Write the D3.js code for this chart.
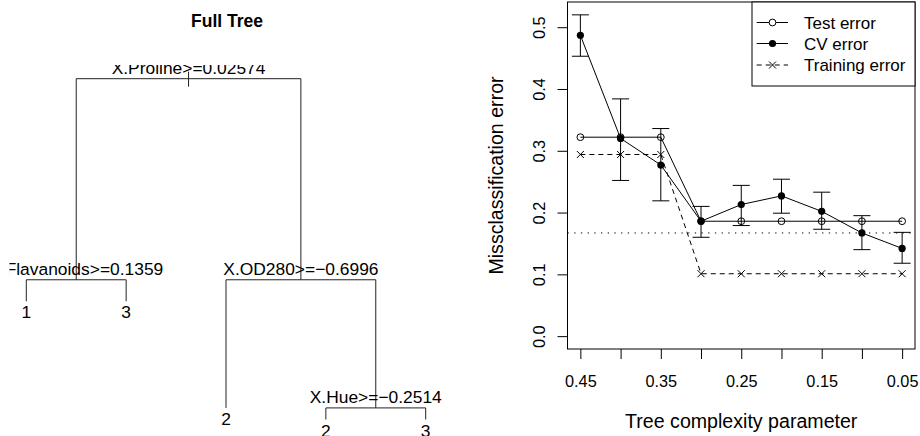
<!DOCTYPE html>
<html>
<head>
<meta charset="utf-8">
<script src="https://cdn.jsdelivr.net/npm/d3@7"></script>
<style>
  body { margin: 0; background: #fff; }
  svg { display: block; font-family: "Liberation Sans", Arial, Helvetica, sans-serif; }
</style>
</head>
<body>
<svg id="chart" width="920" height="436"></svg>
<script>
// ---- tree (left panel) ----
// leaves in plotting order, with predicted class
const treeNodes = [
  { id: "root", parent: null, label: "X.Proline>=0.02574", height: 1.0 },
  { id: "flav", parent: "root", label: "X.Flavanoids>=0.1359", height: 0.41 },
  { id: "l1", parent: "flav", label: "1", height: 0.347 },
  { id: "l2", parent: "flav", label: "3", height: 0.347 },
  { id: "od", parent: "root", label: "X.OD280>=\u22120.6996", height: 0.41 },
  { id: "l3", parent: "od", label: "2", height: 0.034 },
  { id: "hue", parent: "od", label: "X.Hue>=\u22120.2514", height: 0.034 },
  { id: "l4", parent: "hue", label: "2", height: 0.0 },
  { id: "l5", parent: "hue", label: "3", height: 0.0 }
];

// ---- cp plot (right panel) ----
const cpValues   = [0.45, 0.40, 0.35, 0.30, 0.25, 0.20, 0.15, 0.10, 0.05];
const testError  = [0.322, 0.322, 0.322, 0.186, 0.186, 0.186, 0.186, 0.186, 0.186];
const cvError    = [0.487, 0.320, 0.277, 0.186, 0.213, 0.227, 0.202, 0.167, 0.142];
const cvLower    = [0.453, 0.252, 0.219, 0.160, 0.179, 0.199, 0.173, 0.140, 0.118];
const cvUpper    = [0.520, 0.384, 0.336, 0.210, 0.244, 0.254, 0.233, 0.195, 0.168];
const trainError = [0.294, 0.294, 0.294, 0.101, 0.101, 0.101, 0.101, 0.101, 0.101];
const minLine = 0.167;
const xTickLabels = ["0.45", "", "0.35", "", "0.25", "", "0.15", "", "0.05"];
const yTicks = [0, 0.1, 0.2, 0.3, 0.4, 0.5];
const legendLabels = ["Test error", "CV error", "Training error"];

const svg = d3.select("#chart");

// ================= left: tree =================
const root = d3.stratify().id(d => d.id).parentId(d => d.parent)(treeNodes);
// leaves sit at 1..n, inner nodes at the mean of their children
let leafPos = 0;
root.eachAfter(n => {
  n.pos = n.children ? d3.mean(n.children, c => c.pos) : ++leafPos;
});
const tx = d3.scaleLinear().domain([1, leafPos]).range([26.3, 425.7]);
const ty = d3.scaleLinear().domain([0, 1]).range([419.5, 78.7]);

svg.append("text")
  .attr("x", 227).attr("y", 27)
  .attr("text-anchor", "middle")
  .attr("font-weight", "bold")
  .attr("font-size", 17.5)
  .text("Full Tree");

svg.append("clipPath").attr("id", "treeclip")
  .append("rect").attr("x", 9.5).attr("y", 65).attr("width", 450).attr("height", 380);

const tree = svg.append("g").attr("clip-path", "url(#treeclip)");

// branches: horizontal bar at the node, verticals down to each child
root.descendants().filter(n => n.children).forEach(n => {
  const y = ty(n.data.height);
  const xs = n.children.map(c => tx(c.pos));
  tree.append("line")
    .attr("x1", d3.min(xs)).attr("x2", d3.max(xs))
    .attr("y1", y).attr("y2", y)
    .attr("stroke", "#222");
  n.children.forEach(c => {
    tree.append("line")
      .attr("x1", tx(c.pos)).attr("x2", tx(c.pos))
      .attr("y1", y).attr("y2", ty(c.data.height))
      .attr("stroke", "#222");
  });
  tree.append("text")
    .attr("x", tx(n.pos)).attr("y", y - 5)
    .attr("text-anchor", "middle")
    .attr("font-size", 17.4)
    .text(n.data.label);
});
// small stub at the root
tree.append("line")
  .attr("x1", tx(root.pos)).attr("x2", tx(root.pos))
  .attr("y1", ty(root.data.height) - 7).attr("y2", ty(root.data.height) + 8)
  .attr("stroke", "#222");

root.leaves().forEach(n => {
  tree.append("text")
    .attr("x", tx(n.pos)).attr("y", ty(n.data.height) + 17)
    .attr("text-anchor", "middle")
    .attr("font-size", 17.4)
    .text(n.data.label);
});

// ================= right: cp plot =================
const plot = { left: 567.5, right: 915, top: 2, bottom: 349 };
const x = d3.scaleLinear().domain([0.466, 0.034]).range([plot.left, plot.right]);
const y = d3.scaleLinear().domain([-0.0208, 0.5408]).range([plot.bottom, plot.top]);

const g = svg.append("g");

// x axis
const xAxis = g.append("g")
  .attr("transform", `translate(0,${plot.bottom})`)
  .call(d3.axisBottom(x).tickValues(cpValues).tickSizeOuter(0).tickSize(10).tickPadding(16)
    .tickFormat((d, i) => xTickLabels[i]));
xAxis.select(".domain").remove();
xAxis.selectAll("line").attr("stroke", "#000");
xAxis.selectAll("text").attr("font-size", 16.3).attr("font-family", null).attr("fill", "#000");

// y axis
const yAxis = g.append("g")
  .attr("transform", `translate(${plot.left},0)`)
  .call(d3.axisLeft(y).tickValues(yTicks).tickSizeOuter(0).tickSize(10).tickFormat(d3.format(".1f")));
yAxis.select(".domain").remove();
yAxis.selectAll("line").attr("stroke", "#000");
yAxis.selectAll("text")
  .attr("font-size", 16.3).attr("font-family", null).attr("fill", "#000")
  .attr("x", null).attr("dy", null)
  .attr("text-anchor", "middle")
  .attr("transform", "translate(-22.5,0) rotate(-90)");

// axis titles
svg.append("text")
  .attr("x", (plot.left + plot.right) / 2).attr("y", 427.5)
  .attr("text-anchor", "middle").attr("font-size", 19.6)
  .text("Tree complexity parameter");
svg.append("text")
  .attr("transform", `translate(502.5,${(plot.top + plot.bottom) / 2}) rotate(-90)`)
  .attr("text-anchor", "middle").attr("font-size", 19.6)
  .text("Missclassification error");

// minimum cv line
g.append("line")
  .attr("x1", plot.left).attr("x2", plot.right)
  .attr("y1", y(minLine)).attr("y2", y(minLine))
  .attr("stroke", "#000").attr("stroke-dasharray", "1.3,5.4");

const line = d3.line().x((d, i) => x(cpValues[i])).y(d => y(d));

// test error
g.append("path").attr("d", line(testError)).attr("fill", "none").attr("stroke", "#000");
g.selectAll(".test").data(testError).join("circle")
  .attr("cx", (d, i) => x(cpValues[i])).attr("cy", d => y(d)).attr("r", 3.4)
  .attr("fill", "none").attr("stroke", "#000");

// cv error with error bars
g.append("path").attr("d", line(cvError)).attr("fill", "none").attr("stroke", "#000");
cvError.forEach((d, i) => {
  const cx = x(cpValues[i]);
  g.append("path")
    .attr("d", `M${cx},${y(cvLower[i])}V${y(cvUpper[i])}` +
               `M${cx - 8.5},${y(cvLower[i])}H${cx + 8.5}` +
               `M${cx - 8.5},${y(cvUpper[i])}H${cx + 8.5}`)
    .attr("fill", "none").attr("stroke", "#000");
});
g.selectAll(".cv").data(cvError).join("circle")
  .attr("cx", (d, i) => x(cpValues[i])).attr("cy", d => y(d)).attr("r", 3.6)
  .attr("fill", "#000");

// training error
g.append("path").attr("d", line(trainError)).attr("fill", "none")
  .attr("stroke", "#000").attr("stroke-dasharray", "5,4");
const cross = (cx, cy, s) => `M${cx - s},${cy - s}L${cx + s},${cy + s}M${cx - s},${cy + s}L${cx + s},${cy - s}`;
g.selectAll(".train").data(trainError).join("path")
  .attr("d", (d, i) => cross(x(cpValues[i]), y(d), 3.5))
  .attr("fill", "none").attr("stroke", "#000");

// box
g.append("rect")
  .attr("x", plot.left).attr("y", plot.top)
  .attr("width", plot.right - plot.left).attr("height", plot.bottom - plot.top)
  .attr("fill", "none").attr("stroke", "#000");

// legend
const lg = g.append("g");
lg.append("rect").attr("x", 752).attr("y", plot.top).attr("width", plot.right - 752).attr("height", 84)
  .attr("fill", "#fff").attr("stroke", "#000");
const rowY = [22.5, 43.5, 65];
legendLabels.forEach((lab, i) => {
  const ry = rowY[i];
  lg.append("line").attr("x1", 756.7).attr("x2", 788).attr("y1", ry).attr("y2", ry)
    .attr("stroke", "#000").attr("stroke-dasharray", i === 2 ? "5,4" : null);
  if (i === 0) lg.append("circle").attr("cx", 772.5).attr("cy", ry).attr("r", 3.4).attr("fill", "#fff").attr("stroke", "#000");
  if (i === 1) lg.append("circle").attr("cx", 772.5).attr("cy", ry).attr("r", 3.6).attr("fill", "#000");
  if (i === 2) lg.append("path").attr("d", cross(772.5, ry, 3.5)).attr("stroke", "#000").attr("fill", "none");
  lg.append("text").attr("x", 804).attr("y", ry + 6).attr("font-size", 17).text(lab);
});
</script>
</body>
</html>
